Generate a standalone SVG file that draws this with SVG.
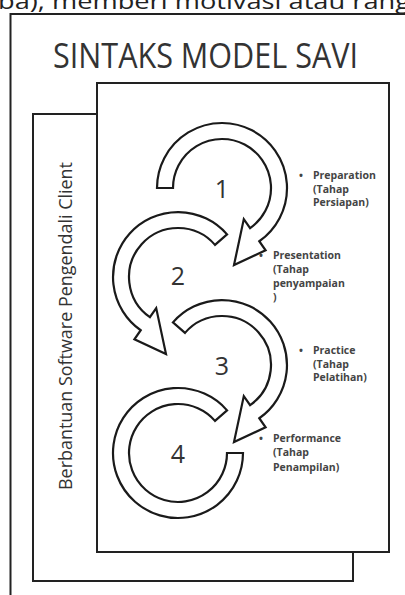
<svg xmlns="http://www.w3.org/2000/svg" width="405" height="595" viewBox="0 0 405 595">
<style>
.frame{fill:#fff;stroke:#222;stroke-width:2}
.arr{fill:#fff;stroke:#1a1a1a;stroke-width:2.2;stroke-linejoin:miter}
.num{font-family:"Open Sans","Liberation Sans",sans-serif;font-size:25px;fill:#333;text-anchor:middle}
.lbl{font-family:"Open Sans","Liberation Sans",sans-serif;font-size:10.5px;font-weight:bold;fill:#444}
.title{font-family:"Open Sans","Liberation Sans",sans-serif;font-size:35px;fill:#333}
.side{font-family:"Open Sans","Liberation Sans",sans-serif;font-size:18px;fill:#333;text-anchor:middle}
</style>
<rect width="405" height="595" fill="#fff"/>
<text x="-2" y="9" font-family="'Open Sans','Liberation Sans',sans-serif" font-size="22" fill="#222" textLength="412" lengthAdjust="spacingAndGlyphs">ba), memberi motivasi atau rang</text>
<g id="outer-frame">
<rect class="frame" x="10.5" y="14" width="400" height="600"/>
<text class="title" x="53" y="68" textLength="305" lengthAdjust="spacingAndGlyphs">SINTAKS MODEL SAVI</text>
</g>
<g id="back-card">
<rect class="frame" x="33" y="114" width="320" height="467"/>
<text class="side" transform="translate(72,326) rotate(-90)" x="0" y="0" textLength="328" lengthAdjust="spacingAndGlyphs">Berbantuan Software Pengendali Client</text>
</g>
<g id="front-card">
<rect class="frame" x="97" y="83" width="292" height="469"/>
</g>
<g id="connectors">
<path id="arrow4" class="arr" d="M227.06,410.35 A65,65 0 1 0 243,453 L227,453 A49,49 0 1 1 214.98,420.85 Z"/>
<path id="arrow3" class="arr" d="M172.94,322.35 A65,65 0 1 1 259.28,418.25 L265.59,427.26 L234,442 L243.8,396.13 L250.11,405.14 A49,49 0 1 0 185.02,332.85 Z"/>
<path id="arrow2" class="arr" d="M227.06,234.35 A65,65 0 1 0 140.72,330.25 L134.41,339.26 L166,354 L156.2,308.13 L149.89,317.14 A49,49 0 1 1 214.98,244.85 Z"/>
<path id="arrow1" class="arr" d="M157,188 A65,65 0 1 1 259.28,241.25 L265.59,250.26 L234,265 L243.8,219.13 L250.11,228.14 A49,49 0 1 0 173,188 Z"/>
</g>
<g id="step1">
<text class="num" x="222" y="198">1</text>
<text class="lbl" x="299" y="179">•</text>
<text class="lbl" x="313" y="179">Preparation</text>
<text class="lbl" x="313" y="192.5">(Tahap</text>
<text class="lbl" x="313" y="206">Persiapan)</text>
</g>
<g id="step2">
<text class="num" x="178" y="285">2</text>
<text class="lbl" x="259" y="259">•</text>
<text class="lbl" x="273" y="259">Presentation</text>
<text class="lbl" x="273" y="273">(Tahap</text>
<text class="lbl" x="273" y="287">penyampaian</text>
<text class="lbl" x="273" y="301">)</text>
</g>
<g id="step3">
<text class="num" x="222" y="375">3</text>
<text class="lbl" x="299" y="354">•</text>
<text class="lbl" x="313" y="354">Practice</text>
<text class="lbl" x="313" y="367.5">(Tahap</text>
<text class="lbl" x="313" y="381">Pelatihan)</text>
</g>
<g id="step4">
<text class="num" x="178" y="463">4</text>
<text class="lbl" x="259" y="442">•</text>
<text class="lbl" x="273" y="442">Performance</text>
<text class="lbl" x="273" y="456">(Tahap</text>
<text class="lbl" x="273" y="471">Penampilan)</text>
</g>
</svg>
